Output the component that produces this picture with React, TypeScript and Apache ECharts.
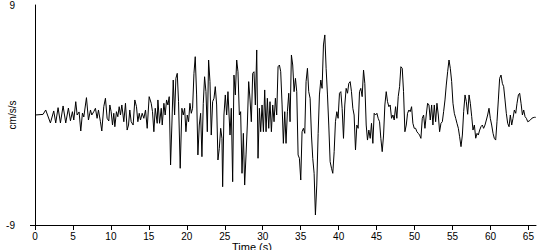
import React, { useEffect, useRef } from "react";
import * as echarts from "echarts";

// Time (s) and acceleration (cm/s/s)
const times: number[] = [
  0, 1.06, 1.41, 2.03, 2.47, 2.73, 3.04, 3.35, 3.7, 4.05, 4.4, 4.67, 4.93, 5.11, 5.37, 5.55, 5.81, 6.03, 6.25, 6.43, 6.78, 7.04, 7.31, 7.48, 7.74,
  7.96, 8.18, 8.36, 8.62, 8.8, 9.06, 9.28, 9.5, 9.72, 9.86, 10.03, 10.21, 10.38, 10.52, 10.73, 10.91, 11.09, 11.26, 11.44, 11.7, 11.92, 12.14, 12.32, 12.49, 12.67, 12.93, 13.15, 13.37, 13.55, 13.73, 13.9, 14.12, 14.34, 14.56, 14.78, 15.04, 15.31, 15.48, 15.66, 15.84, 16.1,
  16.19, 16.41, 16.63, 16.76, 16.98, 17.15, 17.33, 17.51, 17.68, 17.86, 18.03, 18.21, 18.39, 18.56, 18.74, 18.91, 19.13, 19.35, 19.53, 19.71, 19.88, 20.06, 20.23, 20.41, 20.59, 20.76, 20.94, 21.11, 21.29, 21.46, 21.64, 21.82, 21.99, 22.17, 22.34, 22.52, 22.7, 22.87, 23.05, 23.22, 23.4, 23.58, 23.75, 23.93, 24.1, 24.28, 24.46,
  24.63, 24.72, 24.89, 25.07, 25.25, 25.42, 25.69, 25.86, 26.04, 26.21, 26.39, 26.57, 26.74, 26.92, 27.09, 27.27, 27.45, 27.62, 27.8, 27.97, 28.15, 28.33, 28.5, 28.68, 28.85, 29.03, 29.21, 29.38, 29.56, 29.73, 29.91, 30.09, 30.26, 30.44, 30.61, 30.79, 30.96, 31.14, 31.32, 31.49, 31.67, 31.84, 32.02, 32.2, 32.37, 32.55, 32.72, 32.9,
  33.07, 33.25, 33.43, 33.6, 33.78, 33.95, 34.13, 34.31, 34.48, 34.66, 34.83, 35.01, 35.18, 35.36, 35.54, 35.71, 35.89, 36.06, 36.24, 36.42, 36.59, 36.77, 36.94, 37.12, 37.3, 37.47, 37.65, 37.82, 38.0, 38.18, 38.35, 38.53, 38.7, 38.88, 39.06, 39.23, 39.41, 39.58, 39.76, 39.93, 40.11, 40.29, 40.46, 40.64, 40.81, 40.99, 41.17, 41.34,
  41.52, 41.69, 41.87, 42.04, 42.22, 42.4, 42.57, 42.75, 42.92, 43.1, 43.28, 43.45, 43.63, 43.8, 43.98, 44.16, 44.33, 44.51, 44.68, 44.86, 45.04, 45.21, 45.39, 45.56, 45.74, 45.92, 46.09, 46.27, 46.44, 46.62, 46.79, 46.97, 47.15, 47.32, 47.5, 47.67, 47.85, 48.03, 48.2, 48.38, 48.55, 48.73, 48.91, 49.08, 49.26, 49.43, 49.61, 49.78,
  49.96, 50.14, 50.31, 50.49, 50.66, 50.84, 51.02, 51.19, 51.37, 51.54, 51.72, 51.9, 52.07, 52.25, 52.42, 52.6, 52.78, 52.95, 53.13, 53.3, 53.48, 53.66, 53.83, 54.01, 54.18, 54.36, 54.54, 54.71, 54.89, 55.06, 55.24, 55.42, 55.59, 55.77, 55.94, 56.12, 56.3, 56.47, 56.65, 56.82, 57.0, 57.18, 57.35, 57.53, 57.7, 57.88, 58.06, 58.23,
  58.4, 58.58, 58.75, 58.93, 59.1, 59.28, 59.46, 59.63, 59.81, 59.98, 60.16, 60.34, 60.51, 60.69, 60.86, 61.04, 61.21, 61.39, 61.57, 61.74, 61.92, 62.09, 62.27, 62.45, 62.62, 62.8, 62.97, 63.15, 63.33, 63.5, 63.68, 63.85, 64.03, 64.21, 64.38, 64.56, 64.73, 64.91, 65.09, 65.26, 65.44, 65.61, 65.79, 65.96,
];

const accel: number[] = [
  0, 0.05, 0.41, -0.65, 0.33, -0.65, 0.6, -0.65, 0.74, -0.65, 0.57, -0.47, 0.27, -0.41, 1.09, 0, 0.25, -1.31, 0.16, -0.16, 1.42, -0.41, 0.41, 0, 0.27,
  0.55, -0.27, 0.41, -0.55, -1.31, 0.68, 1.37, -0.27, -0.49, 0.82, 0.27, -0.82, 0.14, -0.96, 0.27, -0.14, 0.68, 0, 0.82, -0.55, 0.96, -1.23, -0.82, 0.41, -0.55, -0.82, 1.23, 0.68, -0.55, 0.14, -0.41, 0.14, -0.27, 0.41, -1.09, 1.5, 0.96, 0.27, -1.37, 0.55, -0.68,
  1.23, -0.68, 0.55, -0.82, 0.96, 0, 1.23, 0.82, 1.5, -4.09, -0.82, 2.86, 0, 3.0, 3.41, 1.09, -4.36, 0.55, 0, 0.55, -1.37, 0, -0.55, 0.96, 0.14, 0.55, 3.41, 4.77, 1.64, -3.27, -0.82, 0.14, -3.41, 0.96, 3.13, 1.91, -1.37, 4.5, 2.73, -1.64, 1.09, 1.37, 2.32, 0.82, -3.68, -2.73, -1.09,
  -1.91, -5.87, 0, 1.64, 0, 1.91, -1.64, 0.55, -5.46, 3.27, 1.64, 4.5, 3.54, 0, 0.27, -4.77, -1.5, -5.73, -3.27, -0.82, 2.73, 1.23, -0.55, 3.41, 3.54, 0.82, 5.32, -3.54, 0.55, -1.37, 0.82, -1.37, 2.05, -1.37, 1.37, -1.09, 1.09, -1.37, 0.82, -0.55, 1.37, 0, 3.95, 4.09, 3.54, 0.82, -2.32, 0.27,
  -2.32, 0.27, 1.78, -0.55, 4.91, 4.09, 1.91, 3.0, 1.91, -3.27, -3.54, -5.32, -1.37, -1.09, -1.5, 2.73, 3.82, 1.91, 1.37, -1.64, -3.54, -4.77, -8.18, -5.73, -1.5, 1.64, 2.86, 2.18, 5.73, 6.55, 3.82, 1.64, -0.82, -3.82, -4.36, -4.77, -3.0, -0.55, 0.27, -0.27, 1.78, 1.91, 0.55, -1.91, 0.82, 2.18, 1.78, 2.59,
  2.73, 1.91, 0.55, 0, -2.86, -0.82, -1.09, 1.91, 2.18, 1.5, 3.68, 2.59, -0.82, -2.05, -1.23, -1.91, -0.68, -2.32, 0.14, 0, 0.14, -0.27, -0.55, -1.91, -3.0, -1.64, 0.82, 1.91, 1.09, 0.68, 0.82, -0.27, 0, -0.41, 0.68, -0.27, 1.5, 2.32, 3.95, 3.82, 1.91, -1.37, -0.82, 0.14, 0.41, 0.27, 0.68, -0.68,
  -1.09, -1.09, -1.37, -1.5, -1.64, -1.91, -0.27, 0, -1.09, 0, 0.96, 0.82, -0.41, 0.82, -0.82, 0.82, -0.55, 0.96, 0, -1.37, -0.68, -0.55, 0.27, 1.23, 2.45, 3.54, 4.5, 3.82, 2.73, 0.96, 0.14, -0.27, -0.68, -1.09, -1.78, -2.59, -1.64, 0.27, 1.64, 1.09, 0.06, 1.64, 0.96, -0.14, -1.23, -0.82, -1.9, -1.5,
  -1.64, -1.23, -0.96, -0.82, -1.09, -0.82, -0.41, 0, 0.55, -0.27, -0.82, -1.5, -1.91, -2.05, -0.55, 1.23, 3.0, 3.27, 2.59, 2.32, 1.23, 0.14, -0.68, -0.96, 0, -0.82, -0.27, 0.41, 0.14, 0.96, 1.64, 1.78, 0.96, 0, 0.41, -0.14, -0.27, -0.55, -0.49, -0.41, -0.27, -0.22, -0.19, -0.19,
];

const xTicks: number[] = [0, 5, 10, 15, 20, 25, 30, 35, 40, 45, 50, 55, 60, 65];
const xMax = 66;
const yMin = -9;
const yMax = 9;
const xTitle = "Time (s)";
const yTitle = "cm/s/s";

export default function App() {
  const ref = useRef<HTMLDivElement>(null);
  useEffect(() => {
    document.body.style.margin = "0";
    if (!ref.current) return;
    const chart = echarts.init(ref.current, null, { renderer: "svg" });
    const data = times.map((t, i) => [t, accel[i]]);
    const font = "Arial, 'Liberation Sans', sans-serif";
    chart.setOption({
      animation: false,
      backgroundColor: "#ffffff",
      grid: { left: 35, right: 14, top: 5, bottom: 25, containLabel: false, outerBoundsMode: "none" },
      xAxis: {
        type: "value",
        min: 0,
        max: xMax,
        interval: 5,
        axisLine: { show: true, onZero: false, lineStyle: { color: "#000", width: 1 } },
        axisTick: { show: true, inside: false, length: 5, lineStyle: { color: "#000" }, customValues: xTicks },
        axisLabel: { color: "#000", fontSize: 10, fontFamily: font, margin: 6, customValues: xTicks },
        splitLine: { show: false },
      },
      yAxis: {
        type: "value",
        min: yMin,
        max: yMax,
        interval: 18,
        axisLine: { show: true, onZero: false, lineStyle: { color: "#000", width: 1 } },
        axisTick: { show: false },
        axisLabel: { color: "#000", fontSize: 10, fontFamily: font, margin: 20 },
        splitLine: { show: false },
      },
      graphic: [
        { type: "line", shape: { x1: 30, y1: 225.5, x2: 35, y2: 225.5 }, style: { stroke: "#000", lineWidth: 1 } },
        { type: "text", left: 232, top: 241, style: { text: xTitle, fill: "#000", font: `11px ${font}` } },
        {
          type: "text",
          x: 12,
          y: 115,
          rotation: Math.PI / 2,
          style: { text: yTitle, fill: "#000", font: `10px ${font}`, align: "center", verticalAlign: "middle" },
        },
      ],
      series: [
        {
          type: "line",
          data,
          showSymbol: false,
          symbol: "none",
          lineStyle: { color: "#000", width: 1 },
          clip: false,
        },
      ],
    });
    return () => chart.dispose();
  }, []);
  return <div ref={ref} style={{ width: 550, height: 250 }} />;
}
